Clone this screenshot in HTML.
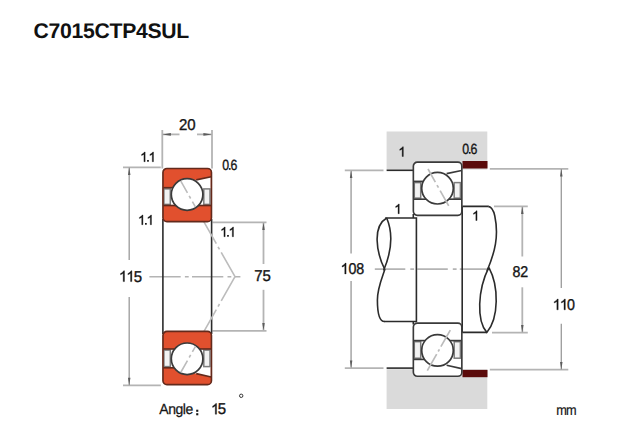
<!DOCTYPE html>
<html><head><meta charset="utf-8">
<style>
html,body{margin:0;padding:0;background:#fff;}
body{width:640px;height:440px;overflow:hidden;position:relative;font-family:"Liberation Sans",sans-serif;}
svg{position:absolute;left:0;top:0;}
text{font-family:"Liberation Sans",sans-serif;text-rendering:geometricPrecision;}
.ringfill{fill:var(--f,#fff);}
.ol{stroke:#3a3a3a;stroke-width:1.7;}
.rl{stroke:var(--r,#3a3a3a);stroke-width:1.65;}
.cage{fill:#f2f2f2;stroke:#7d7d7d;stroke-width:1.5;}
</style></head><body>
<svg width="640" height="440" viewBox="0 0 640 440">
<defs>
<g id="brg">
  <rect x="0.75" y="0.75" width="48.5" height="53.2" rx="4" ry="4" class="ringfill"/>
  <path d="M33 12.299999999999999 L48.6 9.1 L48.6 21 L33 21 Z" fill="#fff"/>
  <rect x="1.2" y="20" width="47.6" height="17.799999999999997" fill="#fff"/>
  <rect x="1.7" y="21.2" width="6.4" height="15.50" class="cage"/>
  <rect x="41.6" y="21.2" width="6.2" height="15.50" class="cage"/>
  <line x1="1" y1="20" x2="12" y2="20" class="rl"/>
  <line x1="1" y1="37.8" x2="14" y2="37.8" class="rl"/>
  <line x1="36" y1="37.8" x2="49" y2="37.8" class="rl"/>
  <line x1="34" y1="12.2" x2="49" y2="9.1" class="rl"/>
  <circle cx="24.9" cy="26.8" r="15.8" fill="#fff" class="ol"/>
  <rect x="0.75" y="0.75" width="48.5" height="53.2" rx="4" ry="4" fill="none" class="rl"/>
</g><g id="brgb">
  <rect x="0.75" y="0.75" width="48.5" height="53.2" rx="4" ry="4" class="ringfill"/>
  <path d="M33 11.9 L48.6 8.4 L48.6 18.6 L33 18.6 Z" fill="#fff"/>
  <rect x="1.2" y="17.6" width="47.6" height="18.799999999999997" fill="#fff"/>
  <rect x="1.7" y="18.8" width="6.4" height="16.50" class="cage"/>
  <rect x="41.6" y="18.8" width="6.2" height="16.50" class="cage"/>
  <line x1="1" y1="17.6" x2="12" y2="17.6" class="rl"/>
  <line x1="1" y1="36.4" x2="14" y2="36.4" class="rl"/>
  <line x1="36" y1="36.4" x2="49" y2="36.4" class="rl"/>
  <line x1="34" y1="11.8" x2="49" y2="8.4" class="rl"/>
  <circle cx="24.9" cy="26.6" r="15.8" fill="#fff" class="ol"/>
  <rect x="0.75" y="0.75" width="48.5" height="53.2" rx="4" ry="4" fill="none" class="rl"/>
</g>
<clipPath id="ballsL"><circle cx="187.1" cy="194.5" r="15"/><circle cx="187.1" cy="358.8" r="15"/></clipPath>
</defs>
<text x="33.6" y="37.9" font-size="21.2" font-weight="bold" letter-spacing="-0.3" fill="#111">C7015CTP4SUL</text>
<g id="left">
<line x1="162.3" y1="130" x2="162.3" y2="168.5" stroke="#b4b4b4" stroke-width="1.8"/>
<line x1="212" y1="130" x2="212" y2="168.5" stroke="#b4b4b4" stroke-width="1.8"/>
<line x1="162.3" y1="134.4" x2="179.5" y2="134.4" stroke="#b4b4b4" stroke-width="1.8"/>
<line x1="197" y1="134.4" x2="212" y2="134.4" stroke="#b4b4b4" stroke-width="1.8"/>
<polygon points="162.4,134.4 170.9,133.0 170.9,135.8" fill="#5c5c5c"/>
<polygon points="211.9,134.4 203.4,133.0 203.4,135.8" fill="#5c5c5c"/>
<text transform="translate(178.90 129.50) scale(1.0 1.045)" font-size="15" fill="#151515" stroke="#151515" stroke-width="0.35">2</text>
<text transform="translate(187.24 129.50) scale(1.0 1.045)" font-size="15" fill="#151515" stroke="#151515" stroke-width="0.35">0</text>
<line x1="123" y1="167.3" x2="160.8" y2="167.3" stroke="#b4b4b4" stroke-width="1.8"/>
<line x1="123" y1="385.4" x2="160.8" y2="385.4" stroke="#b4b4b4" stroke-width="1.8"/>
<line x1="129.2" y1="167.5" x2="129.2" y2="260" stroke="#9e9e9e" stroke-width="1.35"/>
<line x1="129.2" y1="297" x2="129.2" y2="385.2" stroke="#9e9e9e" stroke-width="1.35"/>
<polygon points="129.2,167.5 127.94999999999999,175.0 130.45,175.0" fill="#5c5c5c"/>
<polygon points="129.2,385.2 127.94999999999999,377.7 130.45,377.7" fill="#5c5c5c"/>
<path d="M763 0H583V1147Q518 1085 412.5 1023Q307 961 223 930V1104Q374 1175 487 1276Q600 1377 647 1472H763Z" transform="translate(118.90 281.60) scale(0.00732 -0.00732)" fill="#151515" stroke="#151515" stroke-width="48"/>
<path d="M763 0H583V1147Q518 1085 412.5 1023Q307 961 223 930V1104Q374 1175 487 1276Q600 1377 647 1472H763Z" transform="translate(126.29 281.60) scale(0.00732 -0.00732)" fill="#151515" stroke="#151515" stroke-width="48"/>
<text transform="translate(133.68 281.60) scale(1.0 1.045)" font-size="15" fill="#151515" stroke="#151515" stroke-width="0.35">5</text>
<line x1="212.5" y1="222.4" x2="266.5" y2="222.4" stroke="#b4b4b4" stroke-width="1.8"/>
<line x1="212.5" y1="330.8" x2="266.5" y2="330.8" stroke="#b4b4b4" stroke-width="1.8"/>
<line x1="263.5" y1="222.6" x2="263.5" y2="264" stroke="#b4b4b4" stroke-width="1.8"/>
<line x1="263.5" y1="289.8" x2="263.5" y2="330.6" stroke="#b4b4b4" stroke-width="1.8"/>
<polygon points="263.5,222.6 262.25,230.1 264.75,230.1" fill="#5c5c5c"/>
<polygon points="263.5,330.6 262.25,323.1 264.75,323.1" fill="#5c5c5c"/>
<text transform="translate(254.20 281.10) scale(1.0 1.045)" font-size="15" fill="#151515" stroke="#151515" stroke-width="0.35">7</text>
<text transform="translate(262.39 281.10) scale(1.0 1.045)" font-size="15" fill="#151515" stroke="#151515" stroke-width="0.35">5</text>
<line x1="149.4" y1="276.7" x2="240.4" y2="276.7" stroke="#b4b4b4" stroke-width="1.6" stroke-dasharray="31.3 4.2 3.8 3.3"/>
<line x1="162.9" y1="219" x2="162.9" y2="334" stroke="#2b2b2b" stroke-width="1.6"/>
<line x1="211.6" y1="219" x2="211.6" y2="334" stroke="#2b2b2b" stroke-width="1.6"/>
<line x1="180.4" y1="180.4" x2="235" y2="276.7" stroke="#bcbcbc" stroke-width="1.6" stroke-dasharray="48.5 3.5 3 3.5" stroke-dashoffset="34.2"/>
<line x1="180.4" y1="373" x2="235" y2="276.7" stroke="#bcbcbc" stroke-width="1.6" stroke-dasharray="48.5 3.5 3 3.5" stroke-dashoffset="34.2"/>
<g style="--f:#e1502e;--r:#632a1c">
<use href="#brg" x="162.2" y="167.7"/>
<use href="#brgb" transform="translate(162.2 385.4) scale(1 -1)"/>
</g>
<g clip-path="url(#ballsL)"><line x1="180.4" y1="180.4" x2="235" y2="276.7" stroke="#bcbcbc" stroke-width="1.6" stroke-dasharray="48.5 3.5 3 3.5" stroke-dashoffset="34.2"/><line x1="180.4" y1="373" x2="235" y2="276.7" stroke="#bcbcbc" stroke-width="1.6" stroke-dasharray="48.5 3.5 3 3.5" stroke-dashoffset="34.2"/></g>
<path d="M763 0H583V1147Q518 1085 412.5 1023Q307 961 223 930V1104Q374 1175 487 1276Q600 1377 647 1472H763Z" transform="translate(140.10 161.70) scale(0.00660 -0.00660)" fill="#151515" stroke="#151515" stroke-width="53"/>
<rect x="147.12" y="159.98" width="1.72" height="1.72" fill="#151515"/>
<path d="M763 0H583V1147Q518 1085 412.5 1023Q307 961 223 930V1104Q374 1175 487 1276Q600 1377 647 1472H763Z" transform="translate(148.44 161.70) scale(0.00660 -0.00660)" fill="#151515" stroke="#151515" stroke-width="53"/>
<text transform="translate(222.30 169.80) scale(0.88 1.045)" font-size="14" fill="#151515" stroke="#151515" stroke-width="0.35">0</text>
<rect x="228.89" y="168.08" width="1.72" height="1.72" fill="#151515"/>
<text transform="translate(230.45 169.80) scale(0.88 1.045)" font-size="14" fill="#151515" stroke="#151515" stroke-width="0.35">6</text>
<path d="M763 0H583V1147Q518 1085 412.5 1023Q307 961 223 930V1104Q374 1175 487 1276Q600 1377 647 1472H763Z" transform="translate(137.90 224.70) scale(0.00660 -0.00660)" fill="#151515" stroke="#151515" stroke-width="53"/>
<rect x="145.02" y="222.98" width="1.72" height="1.72" fill="#151515"/>
<path d="M763 0H583V1147Q518 1085 412.5 1023Q307 961 223 930V1104Q374 1175 487 1276Q600 1377 647 1472H763Z" transform="translate(146.44 224.70) scale(0.00660 -0.00660)" fill="#151515" stroke="#151515" stroke-width="53"/>
<path d="M763 0H583V1147Q518 1085 412.5 1023Q307 961 223 930V1104Q374 1175 487 1276Q600 1377 647 1472H763Z" transform="translate(220.10 236.70) scale(0.00660 -0.00660)" fill="#151515" stroke="#151515" stroke-width="53"/>
<rect x="227.12" y="234.98" width="1.72" height="1.72" fill="#151515"/>
<path d="M763 0H583V1147Q518 1085 412.5 1023Q307 961 223 930V1104Q374 1175 487 1276Q600 1377 647 1472H763Z" transform="translate(228.44 236.70) scale(0.00660 -0.00660)" fill="#151515" stroke="#151515" stroke-width="53"/>
<text transform="translate(159.30 414.30) scale(1.0 1.045)" font-size="14" fill="#151515" stroke="#151515" stroke-width="0.25">A</text>
<text transform="translate(168.19 414.30) scale(1.0 1.045)" font-size="14" fill="#151515" stroke="#151515" stroke-width="0.25">n</text>
<text transform="translate(175.52 414.30) scale(1.0 1.045)" font-size="14" fill="#151515" stroke="#151515" stroke-width="0.25">g</text>
<text transform="translate(182.86 414.30) scale(1.0 1.045)" font-size="14" fill="#151515" stroke="#151515" stroke-width="0.25">l</text>
<text transform="translate(185.52 414.30) scale(1.0 1.045)" font-size="14" fill="#151515" stroke="#151515" stroke-width="0.25">e</text>
<rect x="196.2" y="409.7" width="2.1" height="2.1" fill="#151515"/><rect x="196.2" y="413.2" width="2.1" height="2.1" fill="#151515"/>
<path d="M763 0H583V1147Q518 1085 412.5 1023Q307 961 223 930V1104Q374 1175 487 1276Q600 1377 647 1472H763Z" transform="translate(211.00 414.20) scale(0.00732 -0.00732)" fill="#151515" stroke="#151515" stroke-width="48"/>
<text transform="translate(217.84 414.20) scale(1.0 1.045)" font-size="15" fill="#151515" stroke="#151515" stroke-width="0.35">5</text>
<circle cx="241.2" cy="395.8" r="1.7" fill="none" stroke="#222" stroke-width="0.9"/>
</g>
<g id="right">
<rect x="386.6" y="131.5" width="100.7" height="38.1" fill="#dadada"/>
<rect x="386.6" y="369.2" width="100.7" height="39.8" fill="#dadada"/>
<rect x="462.5" y="161" width="25" height="7.5" fill="#5b0b0b"/>
<rect x="462.5" y="369.9" width="25" height="7.3" fill="#5b0b0b"/>
<line x1="386.6" y1="170.3" x2="413" y2="170.3" stroke="#2b2b2b" stroke-width="1.6"/>
<line x1="386.6" y1="368.1" x2="413" y2="368.1" stroke="#2b2b2b" stroke-width="1.6"/>
<line x1="344.8" y1="170.3" x2="383.5" y2="170.3" stroke="#b4b4b4" stroke-width="1.8"/>
<line x1="344.8" y1="368.1" x2="383.5" y2="368.1" stroke="#b4b4b4" stroke-width="1.8"/>
<line x1="351.1" y1="170.5" x2="351.1" y2="253.6" stroke="#b4b4b4" stroke-width="1.8"/>
<line x1="351.1" y1="281" x2="351.1" y2="367.9" stroke="#b4b4b4" stroke-width="1.8"/>
<polygon points="351.1,170.5 349.85,178.0 352.35,178.0" fill="#5c5c5c"/>
<polygon points="351.1,367.9 349.85,360.4 352.35,360.4" fill="#5c5c5c"/>
<path d="M763 0H583V1147Q518 1085 412.5 1023Q307 961 223 930V1104Q374 1175 487 1276Q600 1377 647 1472H763Z" transform="translate(340.50 273.90) scale(0.00732 -0.00732)" fill="#151515" stroke="#151515" stroke-width="48"/>
<text transform="translate(348.54 273.90) scale(0.95 1.045)" font-size="15" fill="#151515" stroke="#151515" stroke-width="0.35">0</text>
<text transform="translate(356.17 273.90) scale(0.95 1.045)" font-size="15" fill="#151515" stroke="#151515" stroke-width="0.35">8</text>
<line x1="489.8" y1="168.8" x2="568.3" y2="168.8" stroke="#b4b4b4" stroke-width="1.8"/>
<line x1="489.8" y1="369.6" x2="568.3" y2="369.6" stroke="#b4b4b4" stroke-width="1.8"/>
<line x1="561.3" y1="169" x2="561.3" y2="288" stroke="#9e9e9e" stroke-width="1.35"/>
<line x1="561.3" y1="323.7" x2="561.3" y2="369.4" stroke="#9e9e9e" stroke-width="1.35"/>
<polygon points="561.3,169 560.05,176.5 562.55,176.5" fill="#5c5c5c"/>
<polygon points="561.3,369.4 560.05,361.9 562.55,361.9" fill="#5c5c5c"/>
<path d="M763 0H583V1147Q518 1085 412.5 1023Q307 961 223 930V1104Q374 1175 487 1276Q600 1377 647 1472H763Z" transform="translate(552.60 309.80) scale(0.00732 -0.00732)" fill="#151515" stroke="#151515" stroke-width="48"/>
<path d="M763 0H583V1147Q518 1085 412.5 1023Q307 961 223 930V1104Q374 1175 487 1276Q600 1377 647 1472H763Z" transform="translate(559.74 309.80) scale(0.00732 -0.00732)" fill="#151515" stroke="#151515" stroke-width="48"/>
<text transform="translate(566.88 309.80) scale(0.95 1.045)" font-size="15" fill="#151515" stroke="#151515" stroke-width="0.35">0</text>
<line x1="494" y1="206.4" x2="527.8" y2="206.4" stroke="#b4b4b4" stroke-width="1.8"/>
<line x1="492" y1="332.6" x2="527.8" y2="332.6" stroke="#b4b4b4" stroke-width="1.8"/>
<line x1="522.3" y1="206.6" x2="522.3" y2="256.5" stroke="#b4b4b4" stroke-width="1.8"/>
<line x1="522.3" y1="287.3" x2="522.3" y2="332.4" stroke="#b4b4b4" stroke-width="1.8"/>
<polygon points="522.3,206.6 521.05,214.1 523.55,214.1" fill="#5c5c5c"/>
<polygon points="522.3,332.4 521.05,324.9 523.55,324.9" fill="#5c5c5c"/>
<text transform="translate(512.50 277.40) scale(0.95 1.045)" font-size="15" fill="#151515" stroke="#151515" stroke-width="0.35">8</text>
<text transform="translate(520.23 277.40) scale(0.95 1.045)" font-size="15" fill="#151515" stroke="#151515" stroke-width="0.35">2</text>
<line x1="374.8" y1="269.1" x2="493" y2="269.1" stroke="#b4b4b4" stroke-width="1.6" stroke-dasharray="30.5 5 3.8 3.2"/>
<path d="M385.2 218 L416.4 218 L416.4 321.5 L384 321.5" fill="none" stroke="#2b2b2b" stroke-width="1.6"/>
<path d="M413.3 214 L413.3 218 M413.3 324.5 L413.3 321.5" fill="none" stroke="#2b2b2b" stroke-width="1.6"/>
<path d="M462.2 206.4 L462.2 332.4" fill="none" stroke="#2b2b2b" stroke-width="1.6"/>
<path d="M462.2 206.4 L488.5 206.4 M462.2 332.4 L487 332.4" fill="none" stroke="#2b2b2b" stroke-width="1.6"/>
<path d="M386.7 218 C 392.6 232, 392.3 250, 383.6 270.5" fill="none" stroke="#2b2b2b" stroke-width="1.6"/>
<path d="M386.7 218 C 372.5 226, 376 252, 384.8 269.5 C 382.4 277, 377.4 288, 377.4 300 C 377.4 310, 378.5 321.5, 384.5 321.5" fill="none" stroke="#2b2b2b" stroke-width="1.6"/>
<path d="M488.3 206.4 C 492 207, 493.5 210, 494.8 216 C 499 236, 495 252, 487 271" fill="none" stroke="#2b2b2b" stroke-width="1.6"/>
<path d="M488.8 267.3 C 477.5 290, 476.5 321, 486.8 332.4 C 499 318, 499 286, 488.8 267.3" fill="none" stroke="#2b2b2b" stroke-width="1.6"/>
<g>
<use href="#brg" x="412.6" y="161.4"/>
<use href="#brgb" transform="translate(412.6 377) scale(1 -1)"/>
</g>
<line x1="428" y1="169" x2="448.7" y2="205.9" stroke="#bcbcbc" stroke-width="1.7" stroke-dasharray="15 3.4 3 3.4 18 50" />
<line x1="427.3" y1="370.6" x2="450.3" y2="330.1" stroke="#bcbcbc" stroke-width="1.7" stroke-dasharray="19 3 2.5 3 20 50" />
<path d="M763 0H583V1147Q518 1085 412.5 1023Q307 961 223 930V1104Q374 1175 487 1276Q600 1377 647 1472H763Z" transform="translate(398.30 156.50) scale(0.00660 -0.00660)" fill="#151515" stroke="#151515" stroke-width="53"/>
<text transform="translate(462.30 153.70) scale(0.88 1.045)" font-size="14" fill="#151515" stroke="#151515" stroke-width="0.35">0</text>
<rect x="468.89" y="151.98" width="1.72" height="1.72" fill="#151515"/>
<text transform="translate(470.45 153.70) scale(0.88 1.045)" font-size="14" fill="#151515" stroke="#151515" stroke-width="0.35">6</text>
<path d="M763 0H583V1147Q518 1085 412.5 1023Q307 961 223 930V1104Q374 1175 487 1276Q600 1377 647 1472H763Z" transform="translate(394.20 213.70) scale(0.00660 -0.00660)" fill="#151515" stroke="#151515" stroke-width="53"/>
<path d="M763 0H583V1147Q518 1085 412.5 1023Q307 961 223 930V1104Q374 1175 487 1276Q600 1377 647 1472H763Z" transform="translate(472.00 220.50) scale(0.00660 -0.00660)" fill="#151515" stroke="#151515" stroke-width="53"/>
<text transform="translate(556.30 414.60) scale(0.91 1.045)" font-size="14" fill="#151515" stroke="#151515" stroke-width="0.2">m</text>
<text transform="translate(566.06 414.60) scale(0.91 1.045)" font-size="14" fill="#151515" stroke="#151515" stroke-width="0.2">m</text>
</g>
</svg>
</body></html>
